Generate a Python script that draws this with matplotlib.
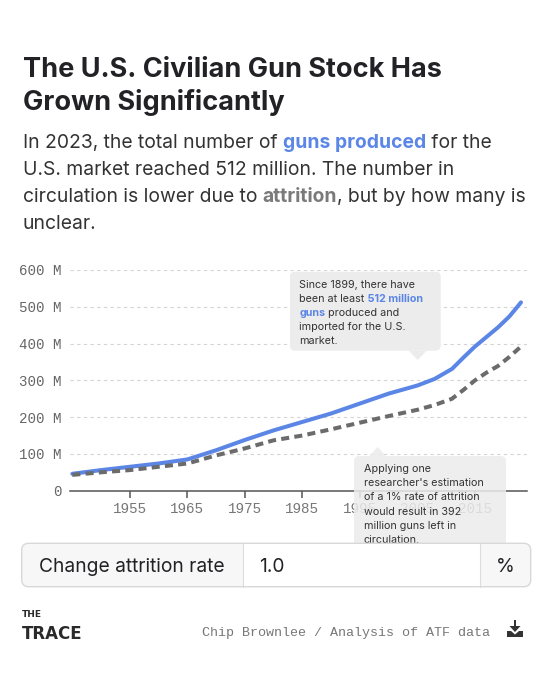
import matplotlib
matplotlib.use('Agg')
import matplotlib.pyplot as plt
from matplotlib import font_manager
from matplotlib.patches import FancyBboxPatch, Polygon, Rectangle

# values (millions of guns)
years = [1945, 1950, 1955, 1960, 1965, 1970, 1975, 1980, 1985, 1990, 1995,
         2000, 2005, 2008, 2011, 2013, 2015, 2017, 2019, 2021, 2023]
produced = [46, 56, 65, 74, 85, 110, 138, 164, 187, 210, 237,
            264, 286, 304, 331, 362, 392, 418, 444, 474, 512]
in_circulation = [43, 50, 56, 65, 74, 96, 115, 137, 150, 167, 185,
                  203, 220, 233, 250, 274, 300, 321, 339, 364, 392]
x_ticks = [1955, 1965, 1975, 1985, 1995, 2005, 2015]
y_ticks = [0, 100, 200, 300, 400, 500, 600]
y_tick_labels = ['0' if v == 0 else '%d M' % v for v in y_ticks]

BLUE = '#5b86e6'
DASH_GRAY = '#6b6b6b'
DARK = '#222226'
TEXT = '#333333'
FONT = ['Inter', 'DejaVu Sans']
MONO = ['Liberation Mono', 'DejaVu Sans Mono']
installed = {f.name for f in font_manager.fontManager.ttflist}
HAS_NARROW = 'Liberation Sans Narrow' in installed
NARROW = ['Liberation Sans Narrow', 'DejaVu Sans'] if HAS_NARROW else ['DejaVu Sans']

W, H = 553, 680
fig = plt.figure(figsize=(W / 100, H / 100), dpi=100)
fig.patch.set_facecolor('white')
renderer = fig.canvas.get_renderer()

# chart axes, placed in pixel units of the reference
ax = fig.add_axes([70 / W, 1 - 490.7 / H, (526.75 - 70) / W, (490.7 - 270) / H])
# overlay in pixel coordinates (y down) for text blocks and boxes
ov = fig.add_axes([0, 0, 1, 1], zorder=5)
ov.set_xlim(0, W)
ov.set_ylim(H, 0)
ov.axis('off')


def text_w(s, **kw):
    t = ov.text(0, 0, '|' + s + '|', **kw)
    t2 = ov.text(0, 0, '||', **kw)
    w = t.get_window_extent(renderer).width - t2.get_window_extent(renderer).width
    t.remove()
    t2.remove()
    return w


def fit(s, target, **kw):
    return 10 * target / text_w(s, size=10, **kw)


def rich(x, y, segs, size, family=FONT, zorder=3):
    for s, color, weight in segs:
        ov.text(x, y, s, size=size, family=family, color=color, weight=weight,
                va='baseline', ha='left', zorder=zorder)
        x += text_w(s, size=size, family=family, weight=weight)


# --- chart ---
ax.plot(years, produced, color=BLUE, lw=2.9, solid_capstyle='round',
        solid_joinstyle='round', zorder=3, clip_on=False)
ax.plot(years, in_circulation, color=DASH_GRAY, lw=2.9, dashes=(2.0, 1.3),
        dash_capstyle='butt', zorder=4, clip_on=False)

ax.set_xlim(1944.6, 2024.0)
ax.set_ylim(0, 600)
ax.set_xticks(x_ticks)
ax.set_xticklabels([str(t) for t in x_ticks], fontfamily=MONO)
ax.set_yticks(y_ticks)
ax.set_yticklabels(y_tick_labels, fontfamily=MONO)
ax.tick_params(axis='y', length=0, pad=5.8, labelsize=10.2, labelcolor='#666666')
ax.tick_params(axis='x', length=4.8, width=1.1, color='#555555', pad=3,
               labelsize=10.3, labelcolor='#777777')
ax.yaxis.grid(True, color='#d4d4d4', linestyle=(0, (3, 3)), lw=0.8)
ax.set_axisbelow(True)
for side in ['left', 'right', 'top']:
    ax.spines[side].set_visible(False)
ax.spines['bottom'].set_color('#555555')
ax.spines['bottom'].set_linewidth(1.1)
ax.spines['bottom'].set_zorder(5)
ax.patch.set_alpha(0)

# --- title and subtitle ---
ts = fit('The U.S. Civilian Gun Stock Has', 418, family=FONT, weight='bold')
ov.text(22.7, 77.3, 'The U.S. Civilian Gun Stock Has', size=ts, family=FONT,
        weight='bold', color=DARK, va='baseline')
ov.text(22.7, 110, 'Grown Significantly', size=ts, family=FONT,
        weight='bold', color=DARK, va='baseline')

sub_lines = [
    [('In 2023, the total number of ', TEXT, 'normal'), ('guns produced', BLUE, 'bold'),
     (' for the', TEXT, 'normal')],
    [('U.S. market reached 512 million. The number in', TEXT, 'normal')],
    [('circulation is lower due to ', TEXT, 'normal'), ('attrition', '#7a7a7a', 'bold'),
     (', but by how many is', TEXT, 'normal')],
    [('unclear.', TEXT, 'normal')],
]
w1 = sum(text_w(s, size=10, family=FONT, weight=wt) for s, c, wt in sub_lines[0])
ss = 10 * 469 / w1
for i, segs in enumerate(sub_lines):
    rich(22.7, 148.3 + i * 27, segs, ss)

# --- tooltips ---
tip_color = '#ececec'
ov.add_patch(FancyBboxPatch((290, 271.7), 150.7, 79, boxstyle='round,pad=0,rounding_size=5',
                            fc=tip_color, ec='none', zorder=2))
ov.add_patch(Polygon([(408.7, 350.6), (426.7, 350.6), (417.7, 360)], closed=True,
                     fc=tip_color, ec='none', zorder=2))
tip1 = [
    [('Since 1899, there have', TEXT, 'normal')],
    [('been at least', TEXT, 'normal'), (' 512 million', BLUE, 'bold')],
    [('guns', BLUE, 'bold'), (' produced and', TEXT, 'normal')],
    [('imported for the U.S.', TEXT, 'normal')],
    [('market.', TEXT, 'normal')],
]
tsz = fit('Since 1899, there have', 116.7, family=FONT)
for i, segs in enumerate(tip1):
    rich(299.3, 287.5 + i * 14.2, segs, tsz)

ov.add_patch(FancyBboxPatch((354, 456), 152, 93.3, boxstyle='round,pad=0,rounding_size=5',
                            fc=tip_color, ec='none', alpha=0.86, zorder=2))
ov.add_patch(Polygon([(369.7, 456), (385.7, 456), (377.7, 446.7)], closed=True,
                     fc=tip_color, ec='none', alpha=0.86, zorder=2))
tip2 = ['Applying one', "researcher's estimation", 'of a 1% rate of attrition',
        'would result in 392', 'million guns left in', 'circulation.']
for i, line in enumerate(tip2):
    ov.text(364, 472.3 + i * 14.1, line, size=tsz, family=FONT, color=TEXT,
            va='baseline', zorder=3)

# --- attrition rate input ---
ov.add_patch(FancyBboxPatch((21.7, 543.3), 509, 43.4, boxstyle='round,pad=0,rounding_size=7',
                            fc='#f7f7f7', ec='none', zorder=6))
ov.add_patch(Rectangle((242.7, 543.3), 237.3, 43.4, fc='white', ec='none', zorder=6.1))
ov.plot([242.7, 242.7], [543.3, 586.7], color='#dddddd', lw=0.8, zorder=6.2)
ov.plot([480, 480], [543.3, 586.7], color='#dddddd', lw=0.8, zorder=6.2)
ov.add_patch(FancyBboxPatch((21.7, 543.3), 509, 43.4, boxstyle='round,pad=0,rounding_size=7',
                            fc='none', ec='#d8d8d8', lw=1.0, zorder=6.3))
isz = fit('Change attrition rate', 186.7, family=FONT)
ov.text(39.3, 572.5, 'Change attrition rate', size=isz, family=FONT, color=DARK,
        va='baseline', zorder=7)
ov.text(259.3, 572.5, '1.0', size=isz, family=FONT, color=DARK, va='baseline', zorder=7)
ov.text(505, 572.5, '%', size=isz, family=FONT, color=DARK, va='baseline', ha='center', zorder=7)

# --- footer ---
logo_size = fit('TRACE', 44, family=NARROW, weight='bold') if HAS_NARROW else 12
ov.text(21.7, 617, 'THE', size=6.5, family=NARROW, weight='bold', color='#2a2a2a', va='baseline')
ov.text(21.7, 639.3, 'TRACE', size=logo_size, family=NARROW, weight='bold',
        color='#2a2a2a', va='baseline')
fsz = fit('Chip Brownlee / Analysis of ATF data', 291, family=MONO)
ov.text(490, 636, 'Chip Brownlee / Analysis of ATF data', size=fsz, family=MONO,
        color='#777777', va='baseline', ha='right')
# download icon
ov.add_patch(Rectangle((513.6, 620), 2.8, 8, fc='#333333', ec='none'))
ov.add_patch(Polygon([(509.5, 626), (520.5, 626), (515, 632)], closed=True, fc='#333333', ec='none'))
ov.add_patch(Polygon([(507, 631), (511, 631), (515, 634.5), (519, 631), (523, 631),
                      (523, 637), (507, 637)], closed=True, fc='#333333', ec='none'))

fig.savefig('out.png', dpi=100, facecolor='white')
